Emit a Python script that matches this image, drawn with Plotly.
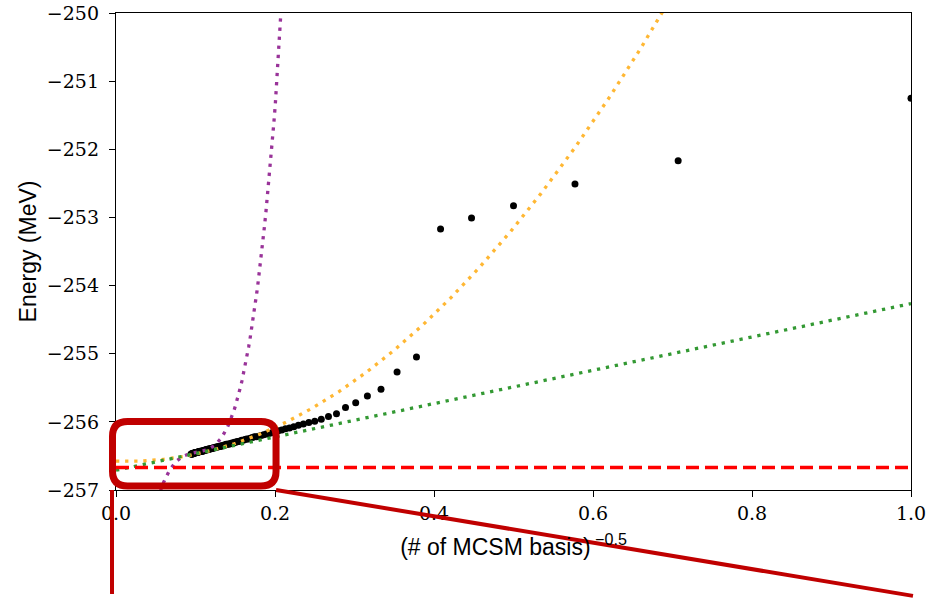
import numpy as np
import plotly.graph_objects as go

# MCSM ground-state energies (MeV) versus number of basis states
basis_count = list(range(1, 113))
energy = [
    -251.25, -252.17, -252.51, -252.83, -253.01, -253.17, -255.05, -255.27,
    -255.52, -255.62, -255.72, -255.79, -255.88, -255.92, -255.96, -255.99,
    -256.01, -256.03, -256.05, -256.07, -256.09, -256.10, -256.12, -256.13,
    -256.14, -256.16, -256.17, -256.18, -256.19, -256.20, -256.21, -256.22,
    -256.22, -256.23, -256.24, -256.25, -256.25, -256.26, -256.27, -256.27,
    -256.28, -256.29, -256.29, -256.30, -256.30, -256.31, -256.31, -256.32,
    -256.32, -256.33, -256.33, -256.33, -256.34, -256.34, -256.35, -256.35,
    -256.35, -256.36, -256.36, -256.36, -256.37, -256.37, -256.37, -256.38,
    -256.38, -256.38, -256.38, -256.39, -256.39, -256.39, -256.40, -256.40,
    -256.40, -256.40, -256.41, -256.41, -256.41, -256.41, -256.41, -256.42,
    -256.42, -256.42, -256.42, -256.43, -256.43, -256.43, -256.43, -256.43,
    -256.43, -256.44, -256.44, -256.44, -256.44, -256.44, -256.45, -256.45,
    -256.45, -256.45, -256.45, -256.45, -256.45, -256.46, -256.46, -256.46,
    -256.46, -256.46, -256.46, -256.47, -256.47, -256.47, -256.47, -256.47,
]

# extrapolation fits: E(x) = sum c_k x^k
linear_fit = [-256.71, 2.445]
quadratic_fit = [-256.575, -0.46, 14.6]
# cubic fit expanded around x = cubic_center
cubic_center = 0.1
cubic_fit = [-256.45, 1.92, -20.9, 5068.0]
extrapolated_energy = -256.67

x_ticks = [0.0, 0.2, 0.4, 0.6, 0.8, 1.0]
y_ticks = [-257, -256, -255, -254, -253, -252, -251, -250]


def poly(coefs, x):
    return sum(c * x ** k for k, c in enumerate(coefs))


x_data = np.array(basis_count, dtype=float) ** -0.5
grid = np.linspace(0.0, 1.0, 600)

fig = go.Figure()
fig.add_trace(go.Scatter(
    x=x_data, y=energy, mode="markers",
    marker=dict(color="black", size=7, line=dict(width=0)),
))
dot = "3.3px,5.8px"
fig.add_trace(go.Scatter(
    x=grid, y=poly(cubic_fit, grid - cubic_center), mode="lines",
    line=dict(color="rgb(153,51,153)", width=3.3, dash=dot),
))
fig.add_trace(go.Scatter(
    x=grid, y=poly(quadratic_fit, grid), mode="lines",
    line=dict(color="rgb(255,183,51)", width=3.3, dash=dot),
))
fig.add_trace(go.Scatter(
    x=grid, y=poly(linear_fit, grid), mode="lines",
    line=dict(color="rgb(51,153,51)", width=3.3, dash=dot),
))
fig.add_trace(go.Scatter(
    x=[0.0, 1.0], y=[extrapolated_energy, extrapolated_energy], mode="lines",
    line=dict(color="rgb(255,0,0)", width=3.3, dash="13px,6px"),
))

# zoom-region frame with connector lines (paper coordinates)
L, R, T, B = -0.0044, 0.2013, 0.1436, 0.0084
rx, ry = 0.019, 0.031
frame = (
    f"M {L + rx},{T} L {R - rx},{T} Q {R},{T} {R},{T - ry} "
    f"L {R},{B + ry} Q {R},{B} {R - rx},{B} "
    f"L {L + rx},{B} Q {L},{B} {L},{B + ry} "
    f"L {L},{T - ry} Q {L},{T} {L + rx},{T} Z"
)
red = "rgb(192,0,0)"
fig.add_shape(type="path", path=frame, xref="paper", yref="paper",
              line=dict(color=red, width=7), layer="above")
fig.add_shape(type="line", xref="paper", yref="paper",
              x0=-0.005, y0=0.0, x1=-0.005, y1=-0.218,
              line=dict(color=red, width=4), layer="above")
fig.add_shape(type="line", xref="paper", yref="paper",
              x0=0.2013, y0=0.0, x1=1.0025, y1=-0.222,
              line=dict(color=red, width=4), layer="above")

serif = "DejaVu Serif, serif"
tick_font = dict(family=serif, size=19, color="black")
title_font = dict(family="Liberation Sans, Arial, sans-serif", size=23, color="black")

fig.update_layout(
    width=930, height=600,
    margin=dict(l=116, r=19, t=13, b=110, autoexpand=False),
    paper_bgcolor="white", plot_bgcolor="white",
    showlegend=False,
    xaxis=dict(
        range=[0, 1], tickvals=x_ticks,
        ticktext=[f"{v:.1f}" for v in x_ticks],
        showgrid=False, zeroline=False, automargin=False,
        showline=True, linecolor="black", linewidth=1.3, mirror=True,
        ticks="outside", ticklen=6, tickwidth=1.3, tickcolor="black",
        tickfont=tick_font,
        title=dict(text="(# of MCSM basis)<sup> −0.5</sup>", font=title_font, standoff=15),
    ),
    yaxis=dict(
        range=[-257, -250], tickvals=y_ticks,
        ticktext=[f"−{abs(v)}" for v in y_ticks],
        showgrid=False, zeroline=False, automargin=False,
        showline=True, linecolor="black", linewidth=1.3, mirror=True,
        ticks="outside", ticklen=6, tickwidth=1.3, tickcolor="black",
        tickfont=tick_font, ticklabelstandoff=6,
        title=dict(text="Energy (MeV)", font=title_font, standoff=3),
    ),
)

fig.write_html("out.html")
